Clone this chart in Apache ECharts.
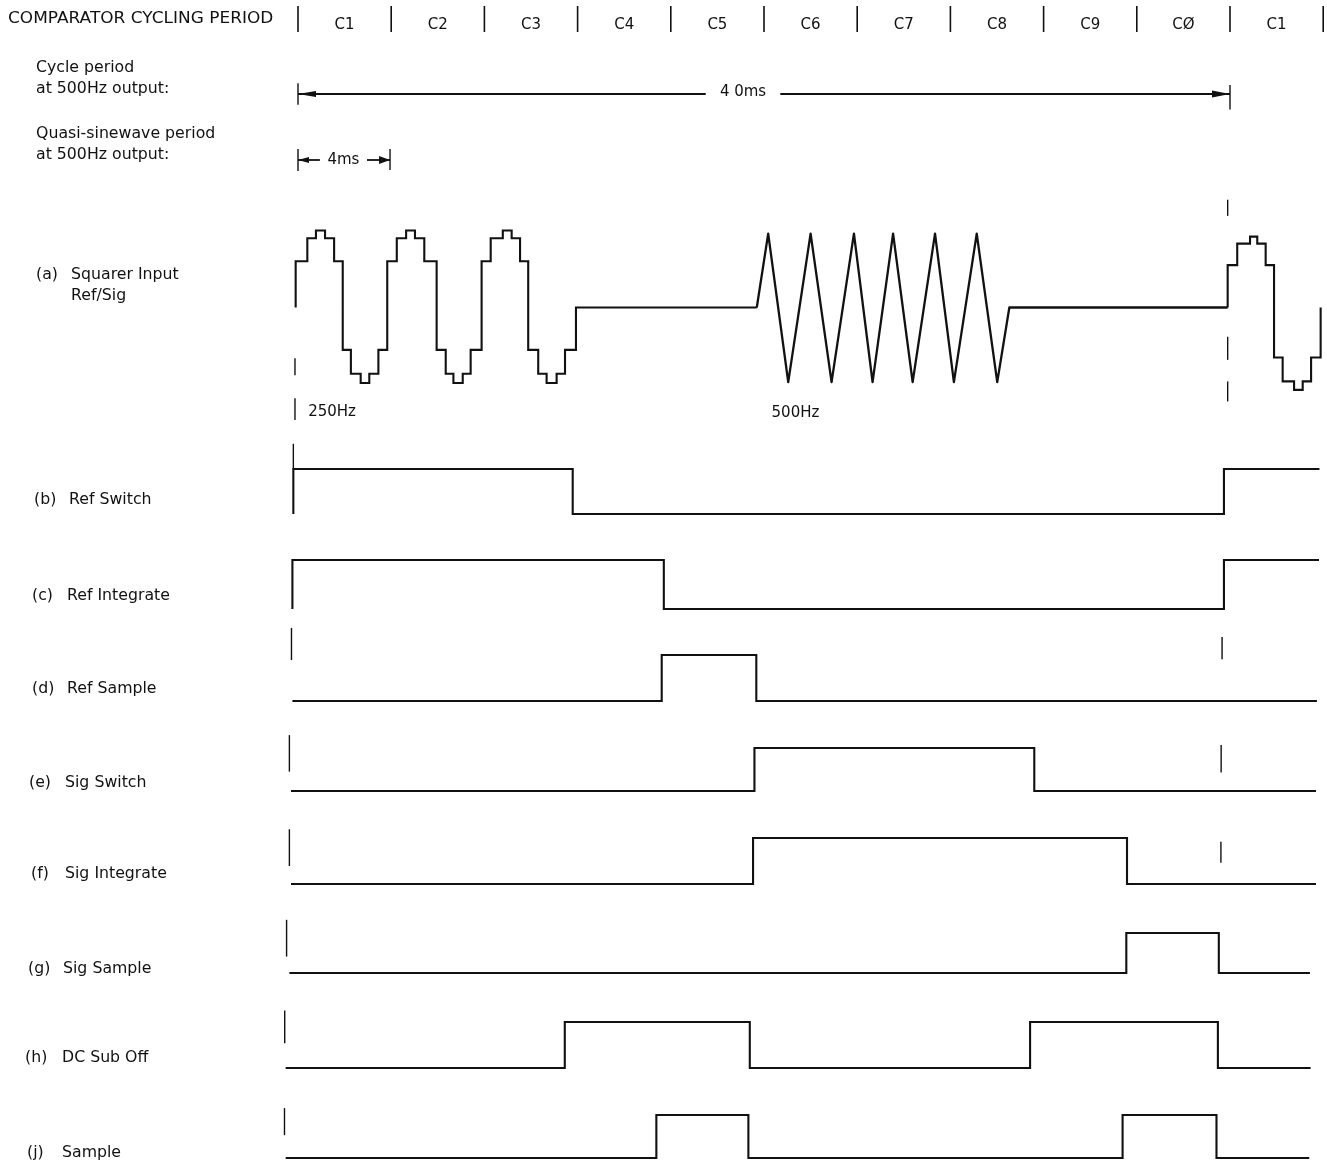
<!DOCTYPE html>
<html><head><meta charset="utf-8">
<script src="https://cdn.jsdelivr.net/npm/echarts@6/dist/echarts.min.js"></script>
<style>html,body{margin:0;padding:0;background:#fff}#c{width:1327px;height:1167px}</style>
</head><body><div id="c"></div>
<script>
// ================= DATA (times in ms, levels in signal units) =================
const cycleBounds  = [0, 4, 8, 12, 16, 20, 24, 28, 32, 36, 40, 44];
const cycleLabels  = ['C1','C2','C3','C4','C5','C6','C7','C8','C9','CØ','C1'];
const cycleCentres = [2, 6, 10, 14, 18, 22, 26, 30, 34, 38, 42];

const cyclePeriodSpan = [0, 40];      // "40ms"
const cycleTextGap    = [17.5, 20.7];
const quasiPeriodSpan = [0, 3.95];    // "4ms"
const quasiTextGap    = [0.94, 2.96];

// (a) squarer input - 250Hz quasi-sinewave staircase (step), then 500Hz burst, then staircase again
const squarerStairA = [[-0.10,0],[-0.10,0.60],[0.40,0.90],[0.77,1.00],[1.16,0.90],[1.55,0.60],[1.92,-0.55],[2.27,-0.86],[2.69,-0.98],[3.06,-0.86],[3.45,-0.55],
  [3.83,0.60],[4.24,0.90],[4.64,1.00],[5.02,0.90],[5.42,0.60],[5.95,-0.55],[6.34,-0.86],[6.67,-0.98],[7.07,-0.86],[7.41,-0.55],
  [7.88,0.60],[8.27,0.90],[8.79,1.00],[9.17,0.90],[9.53,0.60],[9.88,-0.55],[10.31,-0.86],[10.67,-0.98],[11.10,-0.86],[11.46,-0.55],
  [11.93,0],[19.69,0]];
const squarerBurst = [[19.69,0],[20.18,0.96],[21.04,-0.97],[22.00,0.96],[22.90,-0.97],[23.86,0.96],[24.66,-0.97],[25.54,0.96],
  [26.38,-0.97],[27.34,0.96],[28.15,-0.97],[29.13,0.96],[30.01,-0.97],[30.53,0],[39.90,0]];
const squarerStairB = [[39.90,0],[39.90,0.55],[40.31,0.83],[40.86,0.92],[41.17,0.83],[41.53,0.55],[41.89,-0.65],[42.26,-0.96],[42.75,-1.07],[43.12,-0.96],[43.48,-0.65],[43.89,0]];
const squarerTicks = [[-0.13,-0.66,-0.88],[-0.13,-1.18,-1.46],[39.90,1.19,1.40],[39.90,-0.38,-0.68],[39.90,-0.96,-1.22]];

// (b)..(j) logic signals: [time, level] with level holding until next time
const refSwitch    = [[-0.20,0],[-0.20,1],[11.79,0],[39.74,1],[43.84,1]];
const refIntegrate = [[-0.24,0],[-0.24,1],[15.70,0],[39.74,1],[43.82,1]];
const refSample    = [[-0.24,0],[15.61,1],[19.67,0],[43.73,0]];
const sigSwitch    = [[-0.30,0],[19.59,1],[31.60,0],[43.69,0]];
const sigIntegrate = [[-0.30,0],[19.53,1],[35.58,0],[43.69,0]];
const sigSample    = [[-0.37,0],[35.55,1],[39.52,0],[43.43,0]];
const dcSubOff     = [[-0.53,0],[11.45,1],[19.39,0],[31.42,1],[39.48,0],[43.46,0]];
const sampleSig    = [[-0.53,0],[15.38,1],[19.33,0],[35.39,1],[39.42,0],[43.40,0]];

// marker ticks per row: [time, fromLevel, toLevel]
const ticksB = [[-0.20,1,1.56]];
const ticksC = [];
const ticksD = [[-0.28,0.89,1.59],[39.66,0.91,1.39]];
const ticksE = [[-0.37,0.45,1.30],[39.62,0.43,1.07]];
const ticksF = [[-0.37,0.39,1.19],[39.61,0.46,0.92]];
const ticksG = [[-0.49,0.41,1.33]];
const ticksH = [[-0.57,0.54,1.25]];
const ticksJ = [[-0.58,0.53,1.16]];

const rowLetters = ['(a)','(b)','(c)','(d)','(e)','(f)','(g)','(h)','(j)'];
const rowNames   = ['Squarer Input','Ref Switch','Ref Integrate','Ref Sample','Sig Switch','Sig Integrate','Sig Sample','DC Sub Off','Sample'];

// ================= LAYOUT =================
const W = 1327, H = 1167;
const X0 = 298, PXMS = 23.3;             // pixel of t=0, pixels per ms
const tMin = -X0 / PXMS, tMax = (W - X0) / PXMS;
const INK = '#111111';
const FONT = 'DejaVu Sans';
const FS = 15;

const panels = [];
function addPanel(top, height, min, max) { panels.push({top, height, min, max}); return panels.length - 1; }
const P_HEAD = addPanel(6, 26, 0, 1);
const P_CYC  = addPanel(82, 24, -1, 1);
const P_QS   = addPanel(149, 22, -1, 1);
const P_A    = addPanel(230.5, 154, -1, 1);
const rowTops    = [469, 560, 655, 748, 838, 933, 1022, 1115];
const rowHeights = [45, 49, 46, 43, 46, 40, 46, 43];
const P_ROWS = rowTops.map((t, i) => addPanel(t, rowHeights[i], 0, 1));

const labelY     = [275, 500, 596, 689, 783, 874, 969, 1058, 1153];
const letterX    = [36, 34, 32, 32, 29, 31, 28, 25, 27];
const nameX      = [71, 69, 67, 67, 65, 65, 63, 62, 62];

// ================= SERIES =================
const series = [];
function lineS(p, data, opts) {
  series.push(Object.assign({
    type: 'line', xAxisIndex: p, yAxisIndex: p, data, showSymbol: false, symbol: 'none',
    clip: false, silent: true, animation: false,
    lineStyle: {color: INK, width: 2.1, join: 'miter', cap: 'butt'}
  }, opts || {}));
}
function tickS(p, ticks, width) {
  ticks.forEach(([t, a, b]) => lineS(p, [[t, a], [t, b]], {lineStyle: {color: INK, width: width || 1.5}}));
}
function textS(p, items) {
  series.push({
    type: 'scatter', xAxisIndex: p, yAxisIndex: p, symbolSize: 0, silent: true, animation: false, clip: false,
    itemStyle: {opacity: 1, color: INK},
    data: items.map(it => ({name: it[0], value: [it[1], it[2]]})),
    label: {show: true, position: 'inside', formatter: '{b}', color: INK, opacity: 1, fontFamily: FONT, fontSize: FS}
  });
}
function arrowHead(p, tipT, dir, len, wid) { // dir -1: points left, +1: points right
  const c = tipT - dir * (len / 2) / PXMS;
  series.push({
    type: 'scatter', xAxisIndex: p, yAxisIndex: p, silent: true, animation: false, clip: false,
    symbol: 'triangle', symbolSize: [wid, len], symbolRotate: dir < 0 ? 90 : -90,
    itemStyle: {color: INK, opacity: 1}, data: [[c, 0]]
  });
}

// header: cycle separators + labels
cycleBounds.forEach(t => lineS(P_HEAD, [[t, 0], [t, 1]], {lineStyle: {color: INK, width: 1.6}}));
textS(P_HEAD, cycleCentres.map((t, i) => [cycleLabels[i], t, 0.27]));

// cycle period arrow (40ms)
lineS(P_CYC, [[cyclePeriodSpan[0], 0], [cycleTextGap[0], 0]], {lineStyle: {color: INK, width: 1.8}});
lineS(P_CYC, [[cycleTextGap[1], 0], [cyclePeriodSpan[1], 0]], {lineStyle: {color: INK, width: 1.8}});
arrowHead(P_CYC, cyclePeriodSpan[0], -1, 18, 6);
arrowHead(P_CYC, cyclePeriodSpan[1], 1, 18, 7);
tickS(P_CYC, [[cyclePeriodSpan[0], -0.9, 0.9], [cyclePeriodSpan[1], -1.3, 0.75]], 1.4);
textS(P_CYC, [['4 0ms', (cycleTextGap[0] + cycleTextGap[1]) / 2, 0.15]]);

// quasi-sinewave period arrow (4ms)
lineS(P_QS, [[quasiPeriodSpan[0], 0], [quasiTextGap[0], 0]], {lineStyle: {color: INK, width: 1.8}});
lineS(P_QS, [[quasiTextGap[1], 0], [quasiPeriodSpan[1], 0]], {lineStyle: {color: INK, width: 1.8}});
arrowHead(P_QS, quasiPeriodSpan[0], -1, 11, 6);
arrowHead(P_QS, quasiPeriodSpan[1], 1, 11, 8);
tickS(P_QS, [[quasiPeriodSpan[0], -1, 1], [quasiPeriodSpan[1], -0.9, 1]], 1.4);
textS(P_QS, [['4ms', (quasiTextGap[0] + quasiTextGap[1]) / 2, 0]]);

// (a)
lineS(P_A, squarerStairA, {step: 'end'});
lineS(P_A, squarerBurst, {lineStyle: {color: INK, width: 2.3, join: 'round'}});
lineS(P_A, squarerStairB, {step: 'end'});
tickS(P_A, squarerTicks, 1.4);
textS(P_A, [['250Hz', 1.46, -1.36], ['500Hz', 21.35, -1.37]]);

// (b)..(j)
const rowSignals = [refSwitch, refIntegrate, refSample, sigSwitch, sigIntegrate, sigSample, dcSubOff, sampleSig];
const rowTicks   = [ticksB, ticksC, ticksD, ticksE, ticksF, ticksG, ticksH, ticksJ];
rowSignals.forEach((d, i) => { lineS(P_ROWS[i], d, {step: 'end'}); tickS(P_ROWS[i], rowTicks[i], 1.4); });

// ================= LEFT TEXT =================
const txt = (text, x, y, sx) => ({type: 'text', x, y, scaleX: sx || 1.05, silent: true,
  style: {text, fill: INK, font: FS + 'px "' + FONT + '"', verticalAlign: 'middle'}});
const graphic = [
  txt('COMPARATOR CYCLING PERIOD', 8, 19, 1.13),
  txt('Cycle period', 36, 68), txt('at 500Hz output:', 36, 89),
  txt('Quasi-sinewave period', 36, 134), txt('at 500Hz output:', 36, 155),
  txt('Ref/Sig', nameX[0], 296)
];
rowLetters.forEach((l, i) => { graphic.push(txt(l, letterX[i], labelY[i])); graphic.push(txt(rowNames[i], nameX[i], labelY[i])); });

const chart = echarts.init(document.getElementById('c'), null, {renderer: 'canvas', width: W, height: H});
chart.setOption({
  animation: false,
  backgroundColor: '#ffffff',
  grid: panels.map(p => ({left: 0, right: 0, top: p.top, height: p.height})),
  xAxis: panels.map((p, i) => ({type: 'value', gridIndex: i, min: tMin, max: tMax, show: false})),
  yAxis: panels.map((p, i) => ({type: 'value', gridIndex: i, min: p.min, max: p.max, show: false})),
  series,
  graphic
});
</script></body></html>
